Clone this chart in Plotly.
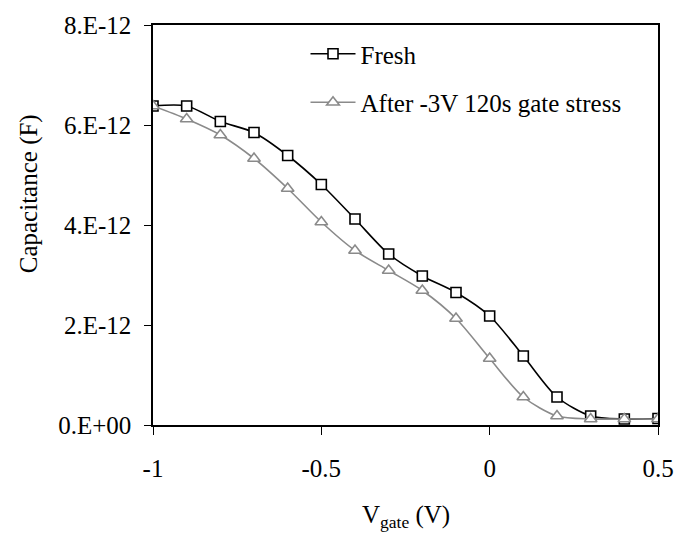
import plotly.graph_objects as go

vgate = [-1.0, -0.9, -0.8, -0.7, -0.6, -0.5, -0.4, -0.3, -0.2, -0.1, 0.0, 0.1, 0.2, 0.3, 0.4, 0.5]
fresh_pF = [6.38, 6.38, 6.07, 5.85, 5.39, 4.81, 4.12, 3.42, 2.98, 2.65, 2.18, 1.38, 0.56, 0.18, 0.12, 0.13]
stress_pF = [6.38, 6.12, 5.80, 5.33, 4.73, 4.06, 3.49, 3.09, 2.69, 2.13, 1.33, 0.56, 0.18, 0.12, 0.12, 0.12]
fresh = [v * 1e-12 for v in fresh_pF]
stress = [v * 1e-12 for v in stress_pF]

ytick_vals = [0, 2e-12, 4e-12, 6e-12, 8e-12]
ytick_text = ["0.E+00", "2.E-12", "4.E-12", "6.E-12", "8.E-12"]
xtick_vals = [-1, -0.5, 0, 0.5]
xtick_text = ["-1", "-0.5", "0", "0.5"]

FONT = "Liberation Serif"
GRAY = "#8a8a8a"

fig = go.Figure()
fig.add_trace(go.Scatter(
    x=vgate, y=fresh, name="Fresh", mode="lines+markers",
    line=dict(color="black", width=1.6, shape="spline", smoothing=0.8),
    marker=dict(symbol="square", size=10, color="white", line=dict(color="black", width=1.6)),
    legendgroup="a",
))
fig.add_trace(go.Scatter(
    x=vgate, y=stress, name="After -3V 120s gate stress", mode="lines+markers",
    line=dict(color=GRAY, width=1.6, shape="spline", smoothing=0.8),
    marker=dict(symbol="triangle-up", size=11, color="white", line=dict(color=GRAY, width=1.6)),
    legendgroup="b",
))

fig.update_layout(
    width=686, height=541,
    margin=dict(l=153, r=19, t=18, b=116),
    paper_bgcolor="white", plot_bgcolor="white",
    font=dict(family=FONT, size=25, color="black"),
    showlegend=True,
    legend=dict(x=0.302, y=0.985, xanchor="left", yanchor="top",
                bgcolor="rgba(0,0,0,0)", itemwidth=45, tracegroupgap=13,
                font=dict(family=FONT, size=25)),
    xaxis=dict(range=[-1, 0.5], tickvals=xtick_vals, ticktext=xtick_text,
               showgrid=False, zeroline=False, showline=True, linecolor="black",
               linewidth=1.5, mirror=True, ticks="outside", ticklen=8, tickwidth=1.2,
               tickcolor="black", ticklabelstandoff=12),
    yaxis=dict(range=[0, 8e-12], tickvals=ytick_vals, ticktext=ytick_text,
               showgrid=False, zeroline=False, showline=True, linecolor="black",
               linewidth=1.5, mirror=True, ticks="outside", ticklen=7, tickwidth=1.2,
               tickcolor="black", ticklabelstandoff=8),
    annotations=[
        dict(text="V<sub>gate</sub> (V)", x=0.5, y=(425 - 518) / 407, xref="paper", yref="paper",
             xanchor="center", yanchor="middle", showarrow=False, font=dict(family=FONT, size=25)),
        dict(text="Capacitance (F)", x=(27 - 153) / 514, y=(425 - 190) / 407, xref="paper", yref="paper",
             xanchor="center", yanchor="middle", textangle=-90, showarrow=False,
             font=dict(family=FONT, size=25)),
    ],
)

fig.write_html("out.html", config={"displayModeBar": False},
               post_script="document.body.style.margin='0';document.body.style.overflow='hidden';")
